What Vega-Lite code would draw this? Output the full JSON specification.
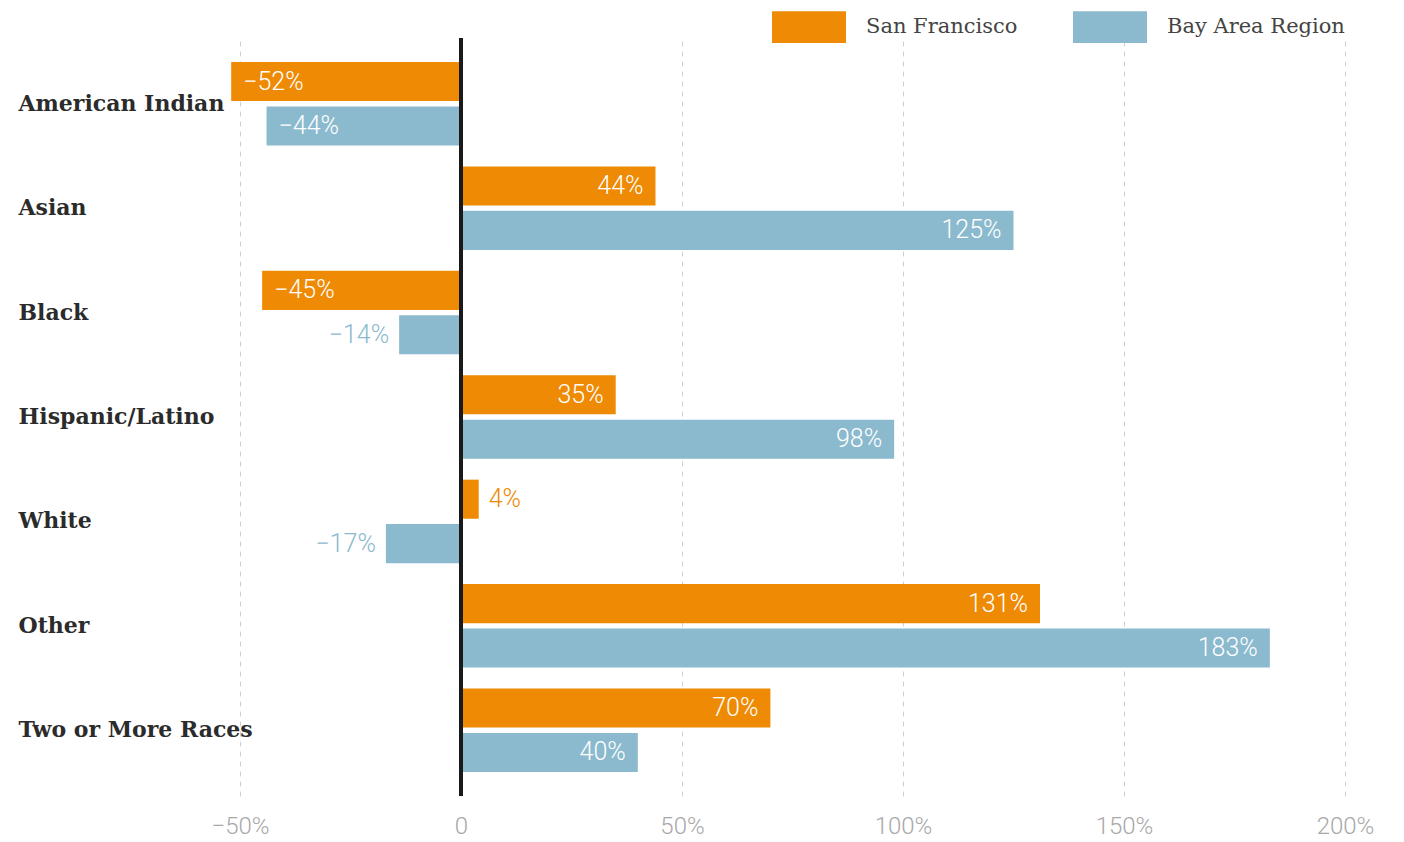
{
  "$schema": "https://vega.github.io/schema/vega-lite/v6.json",
  "autosize": "none",
  "width": 1135,
  "height": 758,
  "padding": {"left": 225, "top": 38, "right": 44, "bottom": 46},
  "background": "white",
  "config": {"view": {"stroke": null}},
  "data": {"values": [
    {"group": "American Indian", "series": "San Francisco", "value": -0.52},
    {"group": "American Indian", "series": "Bay Area Region", "value": -0.44},
    {"group": "Asian", "series": "San Francisco", "value": 0.44},
    {"group": "Asian", "series": "Bay Area Region", "value": 1.25},
    {"group": "Black", "series": "San Francisco", "value": -0.45},
    {"group": "Black", "series": "Bay Area Region", "value": -0.14},
    {"group": "Hispanic/Latino", "series": "San Francisco", "value": 0.35},
    {"group": "Hispanic/Latino", "series": "Bay Area Region", "value": 0.98},
    {"group": "White", "series": "San Francisco", "value": 0.04},
    {"group": "White", "series": "Bay Area Region", "value": -0.17},
    {"group": "Other", "series": "San Francisco", "value": 1.31},
    {"group": "Other", "series": "Bay Area Region", "value": 1.83},
    {"group": "Two or More Races", "series": "San Francisco", "value": 0.70},
    {"group": "Two or More Races", "series": "Bay Area Region", "value": 0.40}
  ]},
  "encoding": {
    "y": {
      "field": "group", "type": "nominal", "sort": null,
      "scale": {"paddingInner": 0.2, "paddingOuter": 0.23},
      "axis": {
        "title": null, "domain": false, "ticks": false, "grid": false,
        "labelAlign": "left", "labelPadding": 207,
        "labelFont": "DejaVu Serif", "labelFontWeight": "bold", "labelFontSize": 22,
        "labelColor": "#2b2b2b", "labelLimit": 300
      }
    },
    "yOffset": {
      "field": "series", "type": "nominal",
      "sort": ["San Francisco", "Bay Area Region"],
      "scale": {"paddingInner": 0.12, "paddingOuter": 0}
    }
  },
  "layer": [
    {
      "mark": {"type": "bar"},
      "encoding": {
        "x": {
          "field": "value", "type": "quantitative",
          "scale": {"domain": [-0.534, 2.034], "nice": false, "zero": false},
          "axis": {
            "title": null, "values": [-0.5, 0, 0.5, 1, 1.5, 2],
            "format": ".0%",
            "labelExpr": "datum.value == 0 ? '0' : datum.label",
            "domain": false, "ticks": false,
            "grid": true, "gridColor": "#d0d0d0", "gridDash": [5, 5], "gridWidth": 1,
            "labelFont": "Roboto", "labelFontWeight": 300, "labelFontSize": 24,
            "labelColor": "#a8a8a8", "labelPadding": 18
          }
        },
        "color": {
          "field": "series", "type": "nominal",
          "sort": ["San Francisco", "Bay Area Region"],
          "scale": {"domain": ["San Francisco", "Bay Area Region"], "range": ["#EE8A04", "#8BBACE"]},
          "legend": {
            "title": null, "orient": "none", "direction": "horizontal",
            "legendX": 547, "legendY": -48,
            "symbolType": "M-1,-0.43L1,-0.43L1,0.43L-1,0.43Z",
            "symbolSize": 5476, "symbolStrokeWidth": 0, "symbolOpacity": 1,
            "labelFont": "DejaVu Serif", "labelFontSize": 21, "labelColor": "#444444",
            "labelOffset": 20, "columnPadding": 55, "labelLimit": 400
          }
        }
      }
    },
    {
      "transform": [{"filter": "datum.value >= 0.1"}],
      "mark": {"type": "text", "align": "right", "dx": -12, "baseline": "middle", "font": "Roboto", "fontWeight": 300, "fontSize": 25, "color": "white"},
      "encoding": {
        "x": {"field": "value", "type": "quantitative"},
        "text": {"field": "value", "type": "quantitative", "format": ".0%"}
      }
    },
    {
      "transform": [{"filter": "datum.value <= -0.2"}],
      "mark": {"type": "text", "align": "left", "dx": 12, "baseline": "middle", "font": "Roboto", "fontWeight": 300, "fontSize": 25, "color": "white"},
      "encoding": {
        "x": {"field": "value", "type": "quantitative"},
        "text": {"field": "value", "type": "quantitative", "format": ".0%"}
      }
    },
    {
      "transform": [{"filter": "datum.value > 0 && datum.value < 0.1"}],
      "mark": {"type": "text", "align": "left", "dx": 10, "baseline": "middle", "font": "Roboto", "fontWeight": 300, "fontSize": 25},
      "encoding": {
        "x": {"field": "value", "type": "quantitative"},
        "text": {"field": "value", "type": "quantitative", "format": ".0%"},
        "color": {"field": "series", "type": "nominal", "legend": null}
      }
    },
    {
      "transform": [{"filter": "datum.value < 0 && datum.value > -0.2"}],
      "mark": {"type": "text", "align": "right", "dx": -10, "baseline": "middle", "font": "Roboto", "fontWeight": 300, "fontSize": 25},
      "encoding": {
        "x": {"field": "value", "type": "quantitative"},
        "text": {"field": "value", "type": "quantitative", "format": ".0%"},
        "color": {"field": "series", "type": "nominal", "legend": null}
      }
    },
    {
      "mark": {"type": "rule", "color": "#1a1a1a", "strokeWidth": 3},
      "encoding": {"x": {"datum": 0}, "y": null, "yOffset": null}
    }
  ]
}
